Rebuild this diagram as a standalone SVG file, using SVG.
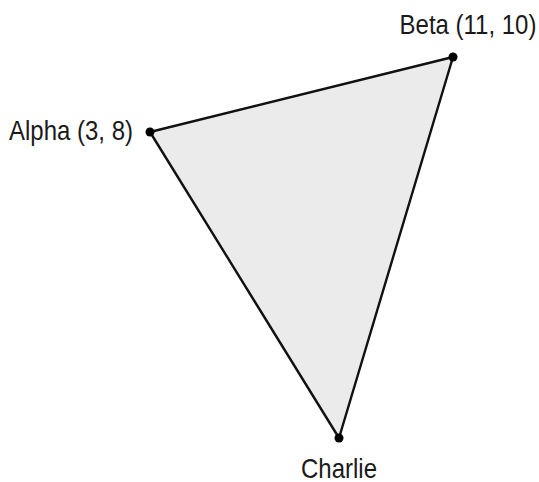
<svg xmlns="http://www.w3.org/2000/svg" width="539" height="482" viewBox="0 0 539 482">
<style>
.lbl{font-family:"Liberation Sans",Arial,sans-serif;font-size:24px;fill:#1a1a1a}
.pt{fill:#000}
</style>
<rect width="539" height="482" fill="#fff"/>
<g id="connectors">
<polygon points="150,132 453,57 339,438" fill="#ebebeb" stroke="#111" stroke-width="2.4" stroke-linejoin="round"/>
</g>
<g id="alpha">
<circle class="pt" cx="150" cy="132" r="4.5"/>
<text class="lbl" transform="translate(133,140) scale(1,1.12)" text-anchor="end">Alpha (3, 8)</text>
</g>
<g id="beta">
<circle class="pt" cx="453" cy="57" r="4.5"/>
<text class="lbl" transform="translate(468,34) scale(1,1.12)" text-anchor="middle">Beta (11, 10)</text>
</g>
<g id="charlie">
<circle class="pt" cx="339" cy="438" r="4.5"/>
<text class="lbl" transform="translate(339,478) scale(1,1.12)" text-anchor="middle">Charlie</text>
</g>
</svg>
